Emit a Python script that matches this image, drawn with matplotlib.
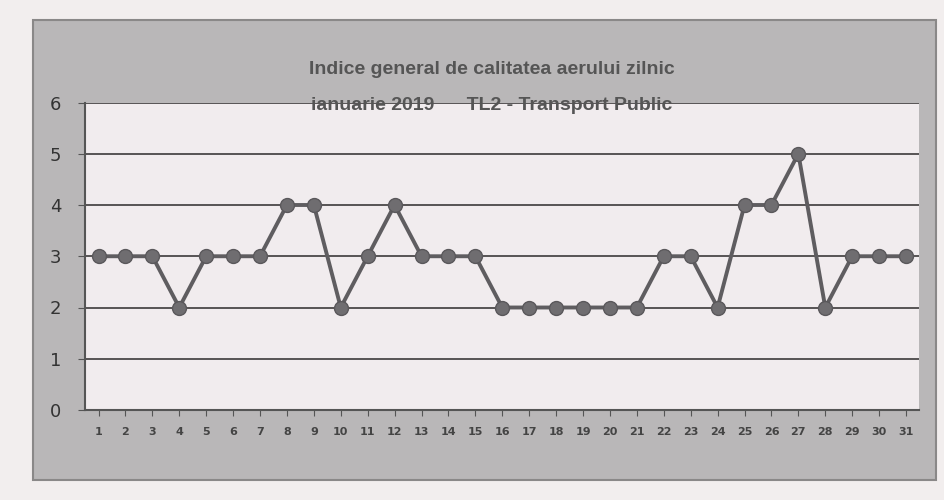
import matplotlib
matplotlib.use("Agg")
import matplotlib.pyplot as plt
from matplotlib.patches import Rectangle

days = list(range(1, 32))
day_labels = [str(d) for d in days]
index_values = [3, 3, 3, 2, 3, 3, 3, 4, 4, 2, 3, 4, 3, 3, 3, 2, 2, 2, 2, 2,
                2, 3, 3, 2, 4, 4, 5, 2, 3, 3, 3]
y_ticks = [0, 1, 2, 3, 4, 5, 6]
title_line1 = "Indice general de calitatea aerului zilnic"
title_line2 = "ianuarie 2019      TL2 - Transport Public"

fig = plt.figure(figsize=(9.45, 5.0), dpi=100)
fig.patch.set_facecolor("#f2eeee")

bg = fig.add_axes([0, 0, 1, 1], zorder=-5)
bg.set_xlim(0, 1)
bg.set_ylim(0, 1)
bg.axis("off")
bg.add_patch(Rectangle((0.035, 0.04), 0.955, 0.92, facecolor="#b9b7b8",
                       edgecolor="#8a8888", linewidth=1.5))

ax = fig.add_axes([0.09, 0.18, 0.883, 0.615], zorder=1)
ax.set_facecolor("#f1ecee")
ax.plot(days, index_values, color="#5f5d60", linewidth=2.8, marker="o",
        markersize=10, markerfacecolor="#6f6d70", markeredgecolor="#5a585b", zorder=3)

ax.set_xlim(0.5, 31.5)
ax.set_ylim(0, 6)
ax.set_yticks(y_ticks)
ax.set_yticklabels([str(v) for v in y_ticks], fontsize=13, color="#333333")
ax.set_xticks(days)
ax.set_xticklabels(day_labels, fontsize=8, color="#444444", fontweight="bold")
ax.grid(axis="y", color="#4a4848", linewidth=1.3)
ax.set_axisbelow(True)
for s in ["top", "right"]:
    ax.spines[s].set_visible(False)
ax.spines["left"].set_color("#555555")
ax.spines["bottom"].set_color("#555555")
ax.spines["left"].set_linewidth(1.5)
ax.spines["bottom"].set_linewidth(1.5)
ax.tick_params(axis="y", length=5, color="#555555", pad=12)
ax.tick_params(axis="x", length=4, color="#555555", pad=8)

fig.text(0.52, 0.86, title_line1, ha="center", va="center", fontsize=14,
         fontweight="bold", color="#555555", family="Liberation Sans", zorder=5)
fig.text(0.52, 0.79, title_line2, ha="center", va="center", fontsize=14,
         fontweight="bold", color="#555555", family="Liberation Sans", zorder=5)

fig.savefig("out.png", dpi=100, facecolor=fig.get_facecolor())
